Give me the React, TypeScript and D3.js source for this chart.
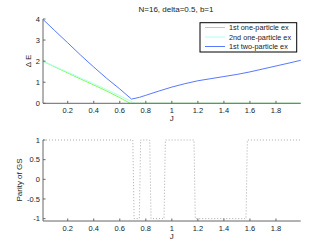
import React from "react";
import { scaleLinear, line } from "d3";

const W = 332;
const H = 250;

const title = "N=16, delta=0.5, b=1";
const seriesNames = ["1st one-particle ex", "2nd one-particle ex", "1st two-particle ex"];
const seriesColors = ["#80ff4a", "#b0fff0", "#5a78ff"];

// J grid / values
const oneJ = [0.01, 0.1, 0.2, 0.3, 0.4, 0.5, 0.6, 0.68, 0.8, 1.0, 1.5, 1.99];
const oneE = [2.0, 1.73, 1.44, 1.15, 0.87, 0.58, 0.27, 0.0, 0, 0, 0, 0];
const twoJ = [0.01, 0.1, 0.2, 0.3, 0.4, 0.5, 0.6, 0.7, 0.72, 0.8, 1.0, 1.5, 1.99];
const twoE = [2.0, 1.75, 1.48, 1.2, 0.93, 0.65, 0.36, 0.05, 0.0, 0, 0, 0, 0];
const pairJ = [0.01, 0.1, 0.2, 0.3, 0.4, 0.5, 0.6, 0.69, 0.75, 0.8, 0.9, 1.0, 1.1, 1.2, 1.3, 1.4, 1.5, 1.6, 1.7, 1.8, 1.9, 1.99];
const pairE = [3.98, 3.45, 2.87, 2.28, 1.72, 1.18, 0.68, 0.2, 0.28, 0.38, 0.58, 0.77, 0.93, 1.07, 1.17, 1.27, 1.37, 1.49, 1.63, 1.77, 1.91, 2.04];

const parityJ = [0.01, 0.70, 0.71, 0.75, 0.76, 0.83, 0.84, 0.94, 0.95, 1.17, 1.18, 1.57, 1.58, 1.99];
const parityV = [1, 1, -1, -1, 1, 1, -1, -1, 1, 1, -1, -1, 1, 1];

const xTicks = [0.2, 0.4, 0.6, 0.8, 1, 1.2, 1.4, 1.6, 1.8];
const yTicksTop = [0, 1, 2, 3, 4];
const yTicksBot = [-1, -0.5, 0, 0.5, 1];

const axisColor = "#666";
const textColor = "#222";
const font = "Liberation Sans, Arial, sans-serif";

export default function App() {
  const x = scaleLinear().domain([0.01, 1.99]).range([43, 300.7]);
  const yTop = scaleLinear().domain([0, 4]).range([103.3, 19]);
  const yBot = scaleLinear().domain([-1.06, 1]).range([221, 140]);

  const mkTop = (js: number[], vs: number[]) =>
    line<number>().x((_, i) => x(js[i])).y((v) => yTop(v))(vs) || "";
  const parityPath =
    line<number>().x((_, i) => x(parityJ[i])).y((v) => yBot(v))(parityV) || "";

  const series = [
    mkTop(oneJ, oneE),
    mkTop(twoJ, twoE),
    mkTop(pairJ, pairE),
  ];

  const fmt = (v: number) => String(v);

  const xAxis = (y0: number) => (
    <g>
      <line x1={43} x2={300.7} y1={y0} y2={y0} stroke={axisColor} strokeWidth={1} />
      {xTicks.map((t) => (
        <g key={t}>
          <line x1={x(t)} x2={x(t)} y1={y0} y2={y0 - 2.5} stroke={axisColor} />
          <text x={x(t)} y={y0 + 10} textAnchor="middle" fontSize={7.5} fill={textColor}>
            {fmt(t)}
          </text>
        </g>
      ))}
    </g>
  );

  const yAxis = (scale: any, ticks: number[], y1: number, y2: number) => (
    <g>
      <line x1={43} x2={43} y1={y1} y2={y2} stroke={axisColor} strokeWidth={1} />
      {ticks.map((t) => (
        <g key={t}>
          <line x1={43} x2={45.5} y1={scale(t)} y2={scale(t)} stroke={axisColor} />
          <text x={40} y={scale(t) + 2.6} textAnchor="end" fontSize={7.5} fill={textColor}>
            {fmt(t)}
          </text>
        </g>
      ))}
    </g>
  );

  return (
    <div style={{ position: "fixed", left: 0, top: 0 }}>
      <svg width={W} height={H} style={{ display: "block", background: "#fff" }} fontFamily={font}>
        <text x={176} y={12} textAnchor="middle" fontSize={8} fill={textColor}>
          {title}
        </text>

        {/* top panel */}
        {series.map((d, i) => (
          <path key={i} d={d} fill="none" stroke={seriesColors[i]} strokeWidth={1} />
        ))}
        {xAxis(103.3)}
        {yAxis(yTop, yTicksTop, 19, 103.3)}
        <text x={171.7} y={121} textAnchor="middle" fontSize={8} fill={textColor}>J</text>
        <text
          transform={`translate(31,61) rotate(-90)`}
          textAnchor="middle"
          fontSize={8}
          fill={textColor}
        >
          Δ E
        </text>

        {/* legend */}
        <rect x={200} y={22.7} width={96.7} height={29.3} fill="#fff" stroke="#000" strokeWidth={1} />
        {seriesNames.map((n, i) => (
          <g key={n}>
            <line x1={205} x2={225} y1={27.5 + i * 9.5} y2={27.5 + i * 9.5} stroke={seriesColors[i]} />
            <text x={229} y={30 + i * 9.5} fontSize={7.3} fill={textColor}>
              {n}
            </text>
          </g>
        ))}

        {/* bottom panel */}
        <path d={parityPath} fill="none" stroke="#aaa" strokeWidth={1} strokeDasharray="1,2" />
        {xAxis(221)}
        {yAxis(yBot, yTicksBot, 140, 221)}
        <text x={171.7} y={239} textAnchor="middle" fontSize={8} fill={textColor}>J</text>
        <text
          transform={`translate(22,180) rotate(-90)`}
          textAnchor="middle"
          fontSize={8}
          fill={textColor}
        >
          Parity of GS
        </text>
      </svg>
    </div>
  );
}
